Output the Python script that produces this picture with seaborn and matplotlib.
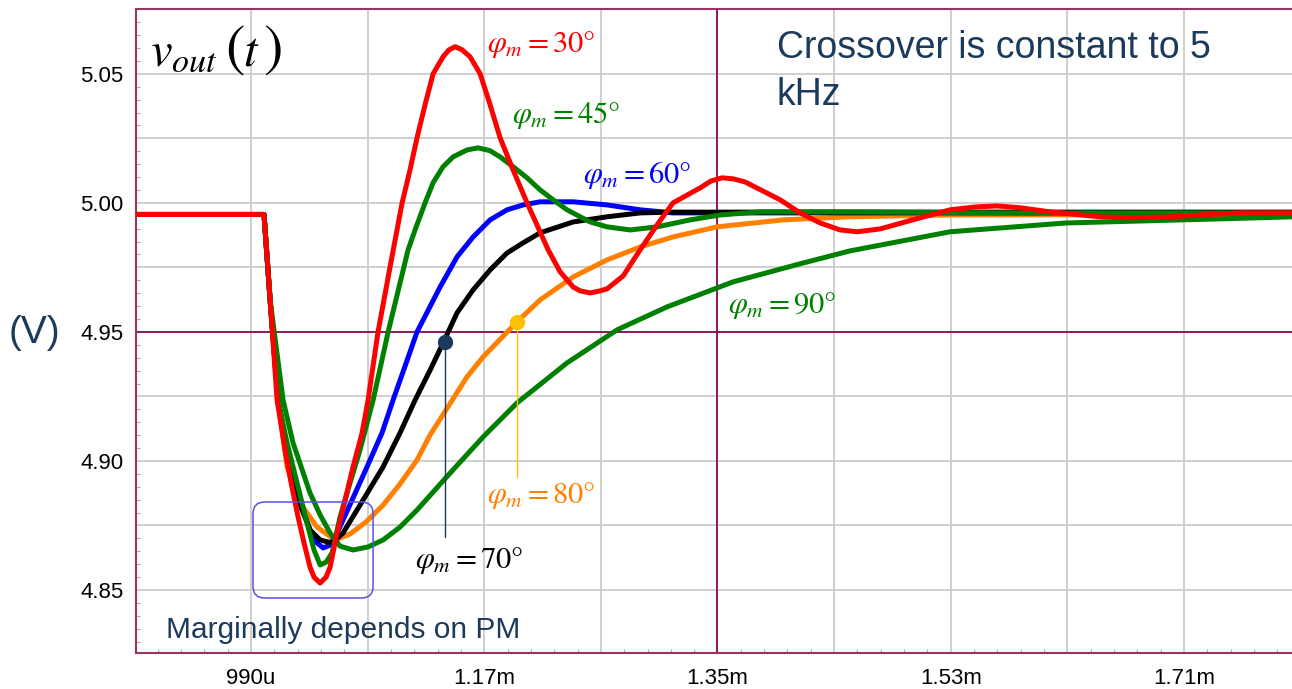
import matplotlib
matplotlib.use("Agg")
import numpy as np
import pandas as pd
import matplotlib.pyplot as plt
import seaborn as sns
from matplotlib.patches import FancyBboxPatch
from matplotlib.ticker import FixedLocator, MultipleLocator

# ---------------- data (time in microseconds, output voltage in volts) ----------------
t_30 = [895, 1000.0, 1004.7, 1010.1, 1016.2, 1020.9, 1026.3, 1030.9, 1035.5, 1038.6, 1043.3, 1047.9,
        1051.0, 1056.4, 1062.6, 1068.7, 1075.7, 1080.3, 1088.0, 1097.3, 1106.6, 1112.7, 1118.1, 1124.3,
        1130.5, 1138.2, 1142.8, 1147.5, 1152.9, 1159.0, 1166.8, 1174.5, 1182.2, 1192.2, 1203.0, 1219.3,
        1228.5, 1238.6, 1244.0, 1251.7, 1259.4, 1264.8, 1277.2, 1290.3, 1303.4, 1315.7, 1336.6, 1345.1,
        1353.6, 1362.1, 1371.3, 1398.3, 1413.8, 1429.2, 1444.7, 1457.8, 1475.5, 1506.4, 1529.6, 1548.9,
        1565.8, 1583.6, 1606.7, 1645.3, 1668.5, 1699.4, 1722.5, 1753.4, 1795]
v_30 = [4.9955, 4.9955, 4.9624, 4.9236, 4.9043, 4.8915, 4.8783, 4.8682, 4.8589, 4.8550, 4.8527, 4.8550,
        4.8589, 4.8721, 4.8849, 4.8977, 4.9109, 4.9236, 4.9500, 4.9752, 5.0000, 5.0128, 5.0252, 5.0380,
        5.0500, 5.0566, 5.0593, 5.0605, 5.0593, 5.0566, 5.0500, 5.0380, 5.0252, 5.0128, 5.0000, 4.9818,
        4.9733, 4.9674, 4.9659, 4.9651, 4.9659, 4.9667, 4.9717, 4.9818, 4.9915, 5.0000, 5.0058, 5.0085,
        5.0097, 5.0093, 5.0081, 5.0012, 4.9961, 4.9922, 4.9895, 4.9888, 4.9899, 4.9942, 4.9973, 4.9984,
        4.9988, 4.9981, 4.9965, 4.9946, 4.9942, 4.9946, 4.9953, 4.9961, 4.9961]

t_45 = [895, 1000.0, 1004.7, 1010.8, 1017.8, 1025.5, 1034.0, 1038.6, 1043.3, 1047.9, 1052.5, 1058.7,
        1066.4, 1074.1, 1084.2, 1095.8, 1111.2, 1116.6, 1124.3, 1130.5, 1138.2, 1145.9, 1156.7, 1165.2,
        1174.5, 1182.2, 1192.2, 1203.0, 1213.1, 1223.1, 1233.9, 1244.0, 1251.7, 1264.8, 1282.6, 1303.4,
        1328.9, 1352.0, 1382.9, 1452.4, 1568.1, 1795]
v_45 = [4.9955, 4.9955, 4.9624, 4.9236, 4.9070, 4.8915, 4.8744, 4.8655, 4.8597, 4.8608, 4.8643, 4.8783,
        4.8915, 4.9043, 4.9236, 4.9500, 4.9818, 4.9895, 5.0000, 5.0078, 5.0140, 5.0178, 5.0205, 5.0213,
        5.0202, 5.0178, 5.0140, 5.0097, 5.0050, 5.0012, 4.9973, 4.9946, 4.9926, 4.9907, 4.9895, 4.9907,
        4.9934, 4.9953, 4.9965, 4.9965, 4.9961, 4.9961]

t_60 = [895, 1000.0, 1004.7, 1010.8, 1015.5, 1020.9, 1027.1, 1035.5, 1040.2, 1045.6, 1051.0, 1056.4,
        1068.0, 1079.5, 1091.1, 1099.6, 1108.9, 1118.1, 1135.9, 1149.0, 1161.4, 1174.5, 1187.6, 1200.0,
        1213.1, 1238.6, 1264.8, 1290.3, 1315.7, 1398.3, 1795]
v_60 = [4.9955, 4.9955, 4.9624, 4.9236, 4.9109, 4.8977, 4.8849, 4.8733, 4.8686, 4.8663, 4.8674, 4.8721,
        4.8849, 4.8977, 4.9109, 4.9236, 4.9368, 4.9500, 4.9674, 4.9791, 4.9868, 4.9934, 4.9973, 4.9992,
        5.0004, 5.0004, 4.9992, 4.9973, 4.9961, 4.9961, 4.9961]

t_70 = [895, 1000.0, 1004.7, 1010.8, 1015.5, 1020.9, 1026.3, 1035.5, 1043.3, 1052.5, 1061.0, 1076.5,
        1091.9, 1105.0, 1116.6, 1128.2, 1138.2, 1149.0, 1161.4, 1174.5, 1187.6, 1200.0, 1213.1, 1238.6,
        1264.8, 1290.3, 1315.7, 1795]
v_70 = [4.9955, 4.9955, 4.9624, 4.9236, 4.9109, 4.8977, 4.8849, 4.8733, 4.8694, 4.8682, 4.8721, 4.8849,
        4.8977, 4.9109, 4.9236, 4.9352, 4.9457, 4.9574, 4.9663, 4.9740, 4.9806, 4.9845, 4.9884, 4.9926,
        4.9946, 4.9961, 4.9964, 4.9964]

t_80 = [895, 1000.0, 1004.7, 1010.8, 1017.8, 1027.8, 1040.9, 1054.8, 1066.4, 1078.8, 1091.9, 1105.0,
        1118.1, 1128.2, 1140.5, 1156.7, 1169.1, 1195.3, 1213.1, 1238.6, 1264.8, 1290.3, 1315.7, 1349.7,
        1400.7, 1452.4, 1529.6, 1795]
v_80 = [4.9955, 4.9955, 4.9624, 4.9236, 4.8977, 4.8837, 4.8744, 4.8694, 4.8717, 4.8764, 4.8829, 4.8911,
        4.9004, 4.9101, 4.9198, 4.9326, 4.9403, 4.9539, 4.9624, 4.9713, 4.9779, 4.9829, 4.9868, 4.9907,
        4.9934, 4.9946, 4.9953, 4.9955]

t_90 = [895, 1000.0, 1004.7, 1014.7, 1022.4, 1035.5, 1043.3, 1051.0, 1058.7, 1068.7, 1080.3, 1091.9,
        1105.0, 1118.1, 1143.6, 1169.1, 1195.3, 1233.9, 1272.5, 1311.1, 1362.1, 1413.8, 1452.4, 1529.6,
        1619.0, 1709.0, 1795]
v_90 = [4.9955, 4.9955, 4.9624, 4.9236, 4.9070, 4.8876, 4.8791, 4.8721, 4.8670, 4.8655, 4.8667, 4.8694,
        4.8744, 4.8810, 4.8953, 4.9093, 4.9225, 4.9380, 4.9508, 4.9597, 4.9694, 4.9764, 4.9814, 4.9888,
        4.9922, 4.9934, 4.9946]

# highlighted points (t, v) and where their leader lines end
marker_t = [1139.7, 1195.3]
marker_v = [4.9461, 4.9539]
leader_end_v = [4.8705, 4.8938]

# axis ticks
x_ticks = [990, 1080, 1170, 1260, 1350, 1440, 1530, 1620, 1710]
x_labels = ["990u", "", "1.17m", "", "1.35m", "", "1.53m", "", "1.71m"]
y_ticks = [4.85, 4.875, 4.90, 4.925, 4.95, 4.975, 5.00, 5.025, 5.05]
y_labels = ["4.85", "", "4.90", "", "4.95", "", "5.00", "", "5.05"]

# ---------------- styling ----------------
sns.set_theme(style="white")
plt.rcParams['font.family'] = ['Liberation Sans', 'DejaVu Sans']
plt.rcParams['mathtext.fontset'] = 'stix'

W, H = 1292, 689
fig = plt.figure(figsize=(W / 100, H / 100), dpi=100)
ax = fig.add_axes([136 / W, 1 - 653 / H, (W - 136) / W, (653 - 9) / H])

def px(x, y):
    return x / W, 1 - y / H

RED, GREEN, BLUE, BLACK, ORANGE = "#FF0000", "#008000", "#0000FF", "#000000", "#FF8000"
NAVY = "#1B3A5C"
MAROON = "#8B0A50"

series = [
    (t_80, v_80, ORANGE, 3),
    (t_60, v_60, BLUE, 4),
    (t_70, v_70, BLACK, 5),
    (t_45, v_45, GREEN, 6),
    (t_90, v_90, GREEN, 7),
    (t_30, v_30, RED, 8),
]
for t, v, c, z in series:
    df = pd.DataFrame({"t": t, "v": v})
    sns.lineplot(data=df, x="t", y="v", ax=ax, color=c, lw=3.6, sort=False,
                 estimator=None, zorder=z, solid_joinstyle="round", solid_capstyle="round")

ax.set_xlim(901.2, 1793.4)
ax.set_ylim(4.8256, 5.0751)
ax.set_xlabel("")
ax.set_ylabel("")

ax.xaxis.set_major_locator(FixedLocator(x_ticks))
ax.set_xticklabels(x_labels)
ax.yaxis.set_major_locator(FixedLocator(y_ticks))
ax.set_yticklabels(y_labels)
ax.xaxis.set_minor_locator(MultipleLocator(18))
ax.yaxis.set_minor_locator(MultipleLocator(0.005))
ax.tick_params(axis="both", which="major", length=0, labelsize=16, labelcolor="black")
ax.tick_params(axis="x", which="major", pad=11)
ax.tick_params(axis="y", which="major", pad=9)
ax.tick_params(axis="x", which="minor", bottom=True, direction="in", length=3, width=0.8, color="#A8A8A8")
ax.tick_params(axis="y", which="minor", left=True, direction="in", length=3, width=0.8, color="#A8A8A8")
ax.grid(True, which="major", color="#CCCCCC", lw=1.3, zorder=0)
ax.set_axisbelow(True)

ax.axvline(1350, color=MAROON, lw=1.3, zorder=1)
ax.axhline(4.95, color=MAROON, lw=1.3, zorder=1)

for side in ["left", "top", "bottom"]:
    ax.spines[side].set_color("#993366")
    ax.spines[side].set_linewidth(1.5)
ax.spines["right"].set_visible(False)

# highlighted points with leader lines
ax.plot([marker_t[0], marker_t[0]], [marker_v[0], leader_end_v[0]], color=NAVY, lw=1.0, zorder=9)
ax.plot([marker_t[1], marker_t[1]], [marker_v[1], leader_end_v[1]], color="#FFC000", lw=1.0, zorder=9)
ax.plot([marker_t[0]], [marker_v[0]], "o", color=NAVY, ms=10, zorder=10)
ax.plot([marker_t[1]], [marker_v[1]], "o", color="#FFC000", ms=10, zorder=10)

# rounded box around the minima
box = FancyBboxPatch((991.5, 4.8469), 92.7, 0.0372, boxstyle="round,pad=0,rounding_size=9",
                     mutation_aspect=0.000502, ec="#5B4FE0", fc="none", lw=1.1, zorder=9)
ax.add_patch(box)

# ---------------- texts ----------------
fig.text(*px(150, 65), r"$v_{out}$", fontsize=35, color="black", ha="left", va="baseline")
fig.text(*px(225, 65), r"$($", fontsize=42, color="black", ha="left", va="baseline")
fig.text(*px(243, 65), r"$t$", fontsize=35, color="black", ha="left", va="baseline")
fig.text(*px(263, 65), r"$)$", fontsize=42, color="black", ha="left", va="baseline")
labels = [
    (r"$\varphi_m = 30°$", RED, 487, 52),
    (r"$\varphi_m = 45°$", GREEN, 512, 123),
    (r"$\varphi_m = 60°$", BLUE, 583, 183),
    (r"$\varphi_m = 90°$", GREEN, 728, 313),
    (r"$\varphi_m = 80°$", ORANGE, 487, 503),
    (r"$\varphi_m = 70°$", BLACK, 415, 568),
]
for s, c, x, y in labels:
    fig.text(*px(x, y), s, fontsize=22, color=c, ha="left", va="baseline")

fig.text(*px(777, 58), "Crossover is constant to 5", fontsize=27, color=NAVY, ha="left", va="baseline")
fig.text(*px(777, 105), "kHz", fontsize=27, color=NAVY, ha="left", va="baseline")
fig.text(*px(166, 638), "Marginally depends on PM", fontsize=21.5, color=NAVY, ha="left", va="baseline")
fig.text(*px(9, 343), "(V)", fontsize=28, color=NAVY, ha="left", va="baseline")

fig.savefig("out.png", dpi=100)
